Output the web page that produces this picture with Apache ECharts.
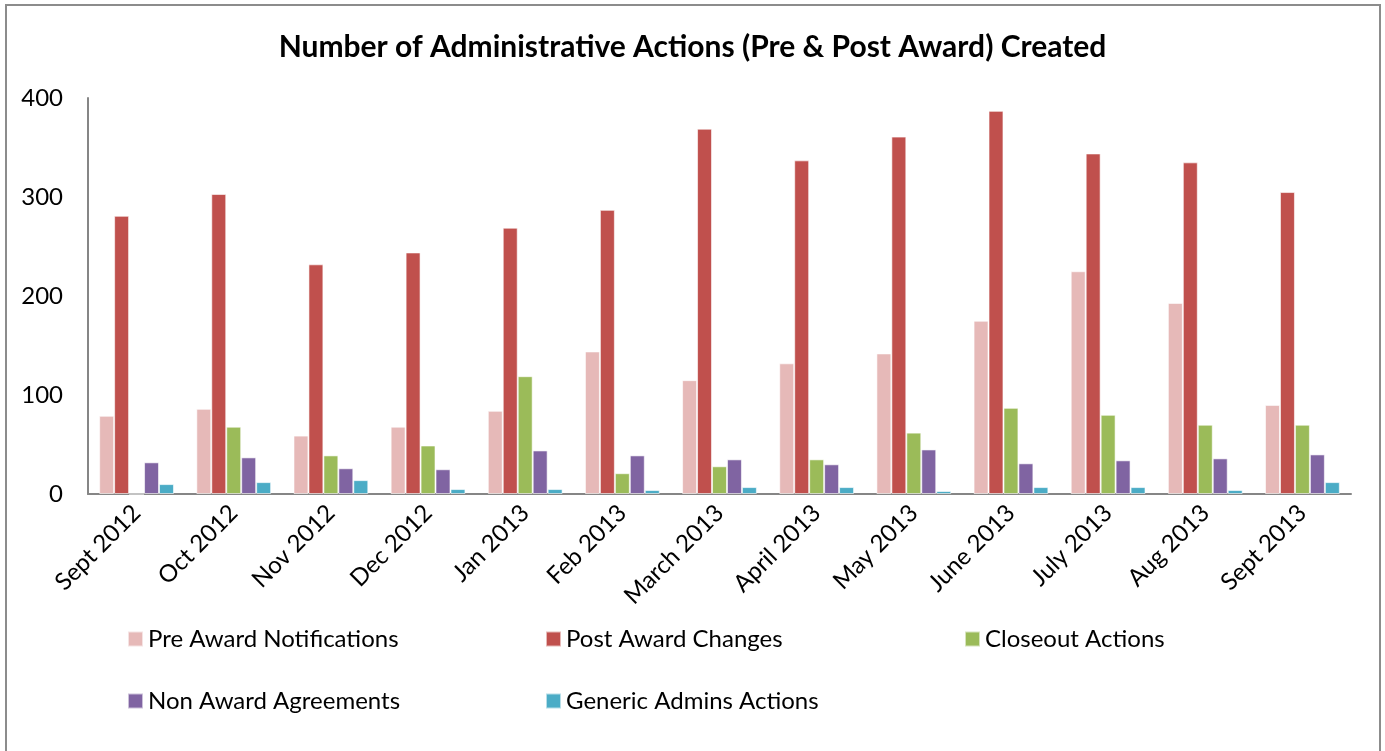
<!DOCTYPE html>
<html>
<head>
<meta charset="utf-8">
<script src="https://cdn.jsdelivr.net/npm/echarts@6/dist/echarts.min.js"></script>
<style>
  html, body { margin: 0; padding: 0; background: #fff; }
  #chart { width: 1385px; height: 751px; }
</style>
</head>
<body>
<div id="chart"></div>
<script>
// categories and series values
var months = ['Sept 2012', 'Oct 2012', 'Nov 2012', 'Dec 2012', 'Jan 2013', 'Feb 2013',
  'March 2013', 'April 2013', 'May 2013', 'June 2013', 'July 2013', 'Aug 2013', 'Sept 2013'];
var preAward = [79, 86, 59, 68, 84, 144, 115, 132, 142, 175, 225, 193, 90];
var postAward = [281, 303, 232, 244, 269, 287, 369, 337, 361, 387, 344, 335, 305];
var closeout = [0, 68, 39, 49, 119, 21, 28, 35, 62, 87, 80, 70, 70];
var nonAward = [32, 37, 26, 25, 44, 39, 35, 30, 45, 31, 34, 36, 40];
var generic = [10, 12, 14, 5, 5, 4, 7, 7, 3, 7, 7, 4, 12];
var yTicks = [0, 100, 200, 300, 400];

var names = ['Pre Award Notifications', 'Post Award Changes', 'Closeout Actions',
  'Non Award Agreements', 'Generic Admins Actions'];
var colors = ['#E6B9B8', '#C0504D', '#9BBB59', '#8064A2', '#4BACC6'];
var values = [preAward, postAward, closeout, nonAward, generic];

var font = 'Lato, "Open Sans", sans-serif';

var chart = echarts.init(document.getElementById('chart'));

// legend placed in two rows, three columns like the original
var legendPos = [[122, 622], [540, 622], [959, 622], [122, 684], [540, 684]];
var legends = names.map(function (n, i) {
  return {
    data: [n],
    left: legendPos[i][0],
    top: legendPos[i][1],
    itemWidth: 15,
    itemHeight: 15,
    itemGap: 6,
    icon: 'rect',
    textStyle: { fontFamily: font, fontSize: 24, color: '#000' },
    selectedMode: false
  };
});

var series = names.map(function (n, i) {
  return {
    name: n,
    type: 'bar',
    data: values[i],
    barGap: '0%',
    barCategoryGap: '23%',
    itemStyle: { color: colors[i], borderColor: 'rgba(255,255,255,0.6)', borderWidth: 1 }
  };
});

var option = {
  animation: false,
  title: {
    text: 'Number of Administrative Actions (Pre & Post Award) Created',
    left: 'center',
    top: 27,
    textStyle: { fontFamily: font, fontSize: 30, fontWeight: 'bold', color: '#000' }
  },
  legend: legends,
  grid: { left: 88, right: 34, top: 98, bottom: 257, containLabel: false },
  xAxis: {
    type: 'category',
    data: months,
    axisLine: { lineStyle: { color: '#868686', width: 2 } },
    axisTick: { show: false },
    axisLabel: { rotate: 45, fontFamily: font, fontSize: 24, color: '#000', margin: 15, interval: 0 }
  },
  yAxis: {
    type: 'value',
    min: yTicks[0],
    max: yTicks[yTicks.length - 1],
    interval: 100,
    splitLine: { show: false },
    axisTick: { show: false },
    axisLine: { show: true, lineStyle: { color: '#868686', width: 2 } },
    axisLabel: { fontFamily: font, fontSize: 24, color: '#000', margin: 25 }
  },
  graphic: [{
    type: 'rect',
    shape: { x: 6, y: 5, width: 1374, height: 800 },
    style: { fill: 'none', stroke: '#8c8c8c', lineWidth: 2 },
    silent: true
  }],
  series: series
};

chart.setOption(option);
</script>
</body>
</html>
